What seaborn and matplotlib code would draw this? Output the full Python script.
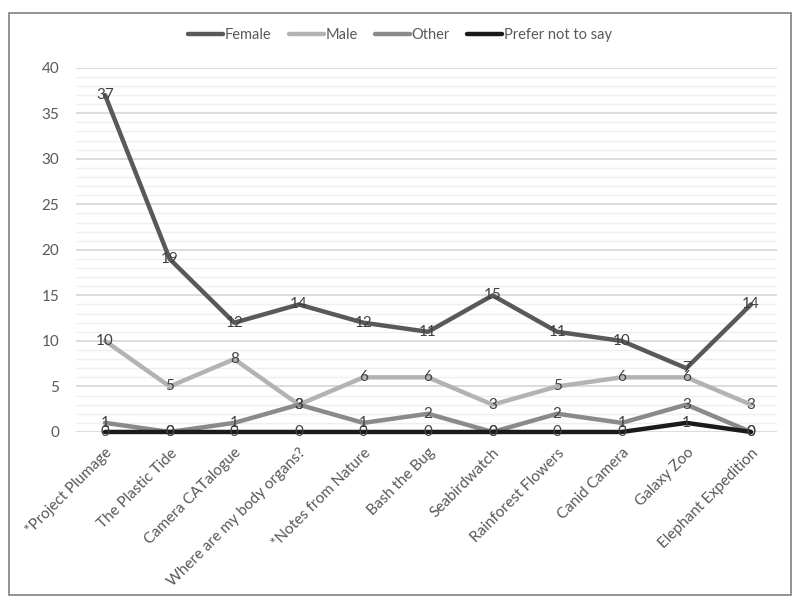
import pandas as pd
import seaborn as sns
import matplotlib.pyplot as plt
from matplotlib.patches import Rectangle
from matplotlib.ticker import MultipleLocator

projects = ["*Project Plumage", "The Plastic Tide", "Camera CATalogue",
            "Where are my body organs?", "*Notes from Nature", "Bash the Bug",
            "Seabirdwatch", "Rainforest Flowers", "Canid Camera", "Galaxy Zoo",
            "Elephant Expedition"]
female = [37, 19, 12, 14, 12, 11, 15, 11, 10, 7, 14]
male = [10, 5, 8, 3, 6, 6, 3, 5, 6, 6, 3]
other = [1, 0, 1, 3, 1, 2, 0, 2, 1, 3, 0]
prefer_not = [0, 0, 0, 0, 0, 0, 0, 0, 0, 1, 0]

series = {"Female": female, "Male": male, "Other": other,
          "Prefer not to say": prefer_not}
colors = {"Female": "#595959", "Male": "#b3b3b3", "Other": "#8a8a8a",
          "Prefer not to say": "#1a1a1a"}

rows = []
for name, vals in series.items():
    for i, v in enumerate(vals):
        rows.append({"idx": i, "project": projects[i], "count": v, "gender": name})
df = pd.DataFrame(rows)

sns.set_theme(style="white")
plt.rcParams['font.family'] = ['Lato', 'DejaVu Sans']

fig = plt.figure(figsize=(8, 6.05), dpi=100)
ax = fig.add_axes([0.095, 0.286, 0.876, 0.602])

sns.lineplot(data=df, x="idx", y="count", hue="gender", palette=colors,
             linewidth=3.2, ax=ax, legend=False)
for line in ax.lines:
    line.set_clip_on(False)
    line.set_solid_joinstyle('round')

# data labels centred on the points
for name, vals in series.items():
    for i, v in enumerate(vals):
        ax.text(i, v, str(v), ha='center', va='center', fontsize=11,
                color='#404040', zorder=5)

ax.set_ylim(0, 40)
ax.set_xlim(-0.45, 10.4)
ax.yaxis.set_major_locator(MultipleLocator(5))
ax.yaxis.set_minor_locator(MultipleLocator(1))
ax.grid(axis='y', which='major', color='#d9d9d9', linewidth=1.3)
ax.grid(axis='y', which='minor', color='#efefef', linewidth=1.0)
ax.set_axisbelow(True)
for s in ax.spines.values():
    s.set_visible(False)

ax.set_xticks(range(len(projects)))
ax.set_xticklabels(projects, rotation=45, ha='right', rotation_mode='anchor',
                   fontsize=11, color='#595959')
ax.tick_params(axis='y', labelsize=11, labelcolor='#595959', length=0, pad=12)
ax.tick_params(axis='x', length=0, pad=10)
ax.tick_params(which='minor', length=0)
ax.set_xlabel("")
ax.set_ylabel("")

handles = [plt.Line2D([], [], color=colors[n], linewidth=3.2) for n in series]
fig.legend(handles, list(series.keys()), loc='center',
           bbox_to_anchor=(0.5, 1 - 35 / 605), ncol=4, frameon=False,
           fontsize=10.5, labelcolor='#595959', handlelength=2.4,
           handletextpad=0.1, columnspacing=1.2)

fig.patches.append(Rectangle((0.011, 0.017), 0.978, 0.961,
                             transform=fig.transFigure, fill=False,
                             edgecolor='#7f7f7f', linewidth=1.2))

fig.savefig("out.png", dpi=100)
